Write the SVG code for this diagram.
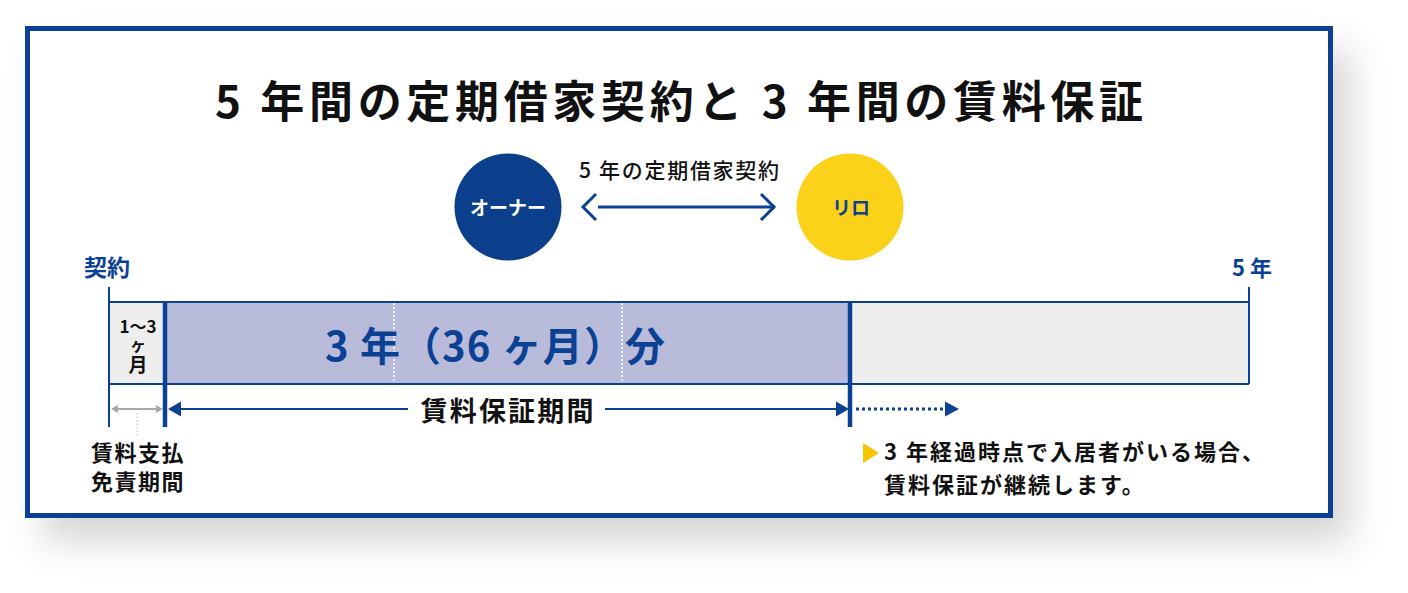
<svg xmlns="http://www.w3.org/2000/svg" width="1408" height="593" viewBox="0 0 1408 593">
<defs>
<filter id="sh" x="-10%" y="-10%" width="130%" height="140%">
<feDropShadow dx="18" dy="24" stdDeviation="18" flood-color="#000" flood-opacity="0.16"/>
</filter>
</defs>
<style>
text{font-family:"Noto Sans CJK JP","Noto Sans",sans-serif}
.b{font-weight:700}
.blue{fill:#0b4193}
.blk{fill:#111}
.ln{stroke:#0b4193;fill:none}
</style>
<rect width="1408" height="593" fill="#fff"/>
<g id="frame">
<rect x="27.5" y="28.5" width="1303" height="487" fill="#fff" stroke="#0b4193" stroke-width="5" filter="url(#sh)"/>
</g>
<g id="title">
<text x="679" y="118" text-anchor="middle" class="b blk" font-size="44" textLength="928" lengthAdjust="spacing">5 年間の定期借家契約と 3 年間の賃料保証</text>
</g>
<g id="owner">
<circle cx="508" cy="207" r="53.5" fill="#0b3f8c"/>
<text x="508" y="215" text-anchor="middle" class="b" fill="#fff" font-size="19">オーナー</text>
</g>
<g id="rilo">
<circle cx="850" cy="207" r="53.5" fill="#fcd119"/>
<text x="851" y="215" text-anchor="middle" class="b blue" font-size="19">リロ</text>
</g>
<g id="timeline">
<rect x="109" y="302" width="56" height="82" fill="#eeeeee"/>
<rect x="165" y="302" width="685" height="82" fill="#b9bbda"/>
<rect x="850" y="302" width="399" height="82" fill="#eeeeee"/>
<line x1="394" y1="303" x2="394" y2="383" stroke="#fff" stroke-width="1.5" stroke-dasharray="2 2"/>
<line x1="622" y1="303" x2="622" y2="383" stroke="#fff" stroke-width="1.5" stroke-dasharray="2 2"/>
<line x1="109" y1="302" x2="1249" y2="302" class="ln" stroke-width="2"/>
<line x1="109" y1="384" x2="1249" y2="384" class="ln" stroke-width="2"/>
<line x1="109" y1="287" x2="109" y2="427" class="ln" stroke-width="2"/>
<line x1="1249" y1="287" x2="1249" y2="384" class="ln" stroke-width="2"/>
<line x1="165" y1="302" x2="165" y2="427" class="ln" stroke-width="4.5"/>
<line x1="850" y1="302" x2="850" y2="427" class="ln" stroke-width="4.5"/>
<text x="84" y="276" class="b blue" font-size="23">契約</text>
<text x="1252" y="276" text-anchor="middle" class="b blue" font-size="22">5 年</text>
<text text-anchor="middle" class="b blk" font-size="17"><tspan x="138" y="333">1〜3</tspan><tspan x="138" y="351" font-size="16">ヶ</tspan><tspan x="138" y="372" font-size="19">月</tspan></text>
<text x="495" y="361" text-anchor="middle" class="b blue" font-size="40" textLength="340" lengthAdjust="spacing">3 年（36 ヶ月）分</text>
</g>
<g id="connectors">
<line x1="598" y1="207" x2="775" y2="207" class="ln" stroke-width="3"/>
<polyline points="596,194 583,207 596,220" class="ln" stroke-width="3"/>
<polyline points="761,194 774,207 761,220" class="ln" stroke-width="3"/>
<line x1="115" y1="409" x2="159" y2="409" stroke="#a9a9a9" stroke-width="2"/>
<polygon points="111,409 118,405 118,413" fill="#a9a9a9"/>
<polygon points="163,409 156,405 156,413" fill="#a9a9a9"/>
<line x1="137" y1="413" x2="137" y2="437" stroke="#bdbdbd" stroke-width="1" stroke-dasharray="1.5 2"/>
<line x1="178" y1="409" x2="408" y2="409" class="ln" stroke-width="2"/>
<line x1="605" y1="409" x2="838" y2="409" class="ln" stroke-width="2"/>
<polygon points="168,409 181,401.5 181,416.5" fill="#0b4193"/>
<polygon points="849,409 836,401.5 836,416.5" fill="#0b4193"/>
<line x1="856" y1="409" x2="944" y2="409" class="ln" stroke-width="3" stroke-dasharray="3 3"/>
<polygon points="959,409 945,401.5 945,416.5" fill="#0b4193"/>
</g>
<g id="labels">
<text x="679" y="178" text-anchor="middle" class="blk" font-weight="500" font-size="21" textLength="200" lengthAdjust="spacing">5 年の定期借家契約</text>
<text x="507" y="421" text-anchor="middle" class="b blk" font-size="27" textLength="173" lengthAdjust="spacing">賃料保証期間</text>
<text x="91" y="461" class="b blk" font-size="22" letter-spacing="1.5">賃料支払</text>
<text x="91" y="490" class="b blk" font-size="22" letter-spacing="1.5">免責期間</text>
<polygon points="863,443 863,463 879,453" fill="#f7c600"/>
<text x="884" y="460" class="b blk" font-size="22" letter-spacing="2">3 年経過時点で入居者がいる場合、</text>
<text x="884" y="493" class="b blk" font-size="22" letter-spacing="2">賃料保証が継続します。</text>
</g>
</svg>
